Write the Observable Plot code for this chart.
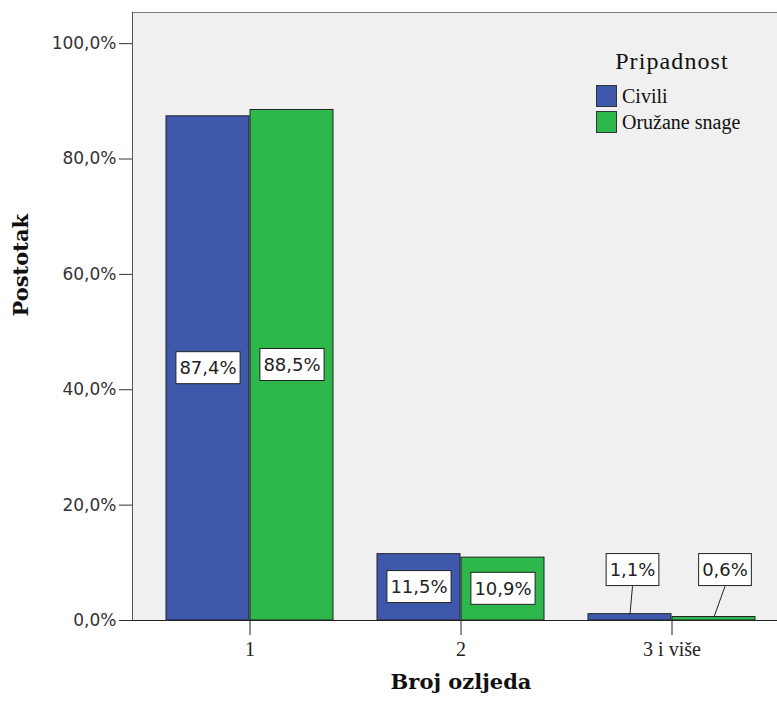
<!DOCTYPE html>
<html>
<head>
<meta charset="utf-8">
<script src="https://cdn.jsdelivr.net/npm/d3@7"></script>
<script src="https://cdn.jsdelivr.net/npm/@observablehq/plot@0.6"></script>
<style>
  body { margin: 0; background: #fff; }
  #wrap { position: relative; width: 777px; height: 702px; overflow: hidden; }
  #wrap svg { position: absolute; left: 0; top: 0; }
  .lg-title { position: absolute; left: 596px; top: 47px; width: 152px; text-align: center;
    font: 24px "Liberation Serif", serif; letter-spacing: 1.1px; line-height: 28px; color: #111; }
  .lg-sw { position: absolute; left: 596px; width: 21px; height: 22px; box-sizing: border-box; border: 1px solid #333; }
  .lg-tx { position: absolute; left: 622px; font: 20px "Liberation Serif", serif; line-height: 22px; color: #111; white-space: nowrap; }
</style>
</head>
<body>
<div id="wrap"></div>
<script>
// ---- data ----
const categories = ["1", "2", "3 i više"];
const seriesNames = ["Civili", "Oružane snage"];
const civili = [87.4, 11.5, 1.1];
const oruzaneSnage = [88.5, 10.9, 0.6];
const seriesColors = ["#3e58ac", "#2eb84b"];
const yTicks = [0, 20, 40, 60, 80, 100];
const yTitle = "Postotak";
const xTitle = "Broj ozljeda";
const legendTitle = "Pripadnost";

const data = categories.flatMap((c, i) => [
  {cat: c, s: 0, series: seriesNames[0], value: civili[i]},
  {cat: c, s: 1, series: seriesNames[1], value: oruzaneSnage[i]}
]);
const fmt = v => v.toFixed(1).replace(".", ",") + "%";

// ---- layout ----
const W = 777, H = 702;
const xScaleOpts = {type: "band", domain: categories, range: [143, 779], paddingInner: 0.2075, paddingOuter: 0.104};
const bw = Plot.scale({x: xScaleOpts}).bandwidth;
const half = bw / 2, quarter = bw / 4;
const smallThreshold = 5;
const smallLevel = 8.7;
const isTall = d => d.value >= smallThreshold;
const labelY = d => isTall(d) ? d.value / 2 : smallLevel;
const smallLabelShift = [2.5, 11];

const tall = data.filter(isTall);
const small = data.filter(d => !isTall(d));

const chart = Plot.plot({
  width: W, height: H,
  marginLeft: 132, marginRight: 0, marginTop: 12, marginBottom: 82,
  style: {background: "transparent", overflow: "visible"},
  x: {...xScaleOpts, label: null},
  y: {domain: [0, 105.4], label: null},
  marks: [
    Plot.frame({fill: "#f0f0f0", stroke: null}),
    Plot.frame({anchor: "top", stroke: "#7a7a7a"}),
    Plot.frame({anchor: "left", stroke: "#555"}),
    Plot.barY(data.filter(d => d.s === 0), {x: "cat", y: "value", fill: seriesColors[0], stroke: "#222", strokeWidth: 1, insetRight: half}),
    Plot.barY(data.filter(d => d.s === 1), {x: "cat", y: "value", fill: seriesColors[1], stroke: "#222", strokeWidth: 1, insetLeft: half}),
    Plot.ruleY([0], {stroke: "#222", strokeWidth: 1}),
    Plot.link(small, {
      x1: "cat", x2: "cat", y1: "value", y2: labelY, stroke: "#222", strokeWidth: 1,
      render(index, scales, values, dims, ctx, next) {
        const x1 = Float64Array.from(values.x1, (v, i) => v + (small[i].s === 0 ? -quarter : quarter));
        const x2 = Float64Array.from(values.x2, (v, i) => v + (small[i].s === 0 ? -quarter : quarter) + smallLabelShift[small[i].s]);
        const y2 = Float64Array.from(values.y2, v => v + 16);
        return next(index, scales, {...values, x1, x2, y2}, dims, ctx);
      }
    }),
    Plot.text(tall.filter(d => d.s === 0), {x: "cat", y: labelY, text: d => fmt(d.value), dx: -quarter, className: "vlabel", fontFamily: "DejaVu Sans", fontSize: 18, fill: "#222"}),
    Plot.text(tall.filter(d => d.s === 1), {x: "cat", y: labelY, text: d => fmt(d.value), dx: quarter, className: "vlabel", fontFamily: "DejaVu Sans", fontSize: 18, fill: "#222"}),
    Plot.text(small.filter(d => d.s === 0), {x: "cat", y: labelY, text: d => fmt(d.value), dx: -quarter + smallLabelShift[0], className: "vlabel", fontFamily: "DejaVu Sans", fontSize: 18, fill: "#222"}),
    Plot.text(small.filter(d => d.s === 1), {x: "cat", y: labelY, text: d => fmt(d.value), dx: quarter + smallLabelShift[1], className: "vlabel", fontFamily: "DejaVu Sans", fontSize: 18, fill: "#222"}),
    Plot.axisY({ticks: yTicks, tickFormat: fmt, tickSize: 13, tickPadding: 3, fontSize: 17, fontFamily: "DejaVu Sans", color: "#333", label: null}),
    Plot.axisX({tickSize: 15, tickPadding: 6, fontSize: 20, fontFamily: "Liberation Serif", color: "#222", label: null}),
    Plot.text([yTitle], {frameAnchor: "left", dx: -111, rotate: -90, fontFamily: "DejaVu Serif", fontWeight: "bold", fontSize: 21, fill: "#111"}),
    Plot.text([xTitle], {frameAnchor: "bottom", dx: 6, dy: 68, fontFamily: "DejaVu Serif", fontWeight: "bold", fontSize: 21, fill: "#111"})
  ]
});

const wrap = document.getElementById("wrap");
wrap.appendChild(chart);

// white boxes behind value labels
d3.select(chart).selectAll("g.vlabel text").each(function () {
  const b = this.getBBox();
  const padX = 3.5, padY = 5.5;
  const r = document.createElementNS("http://www.w3.org/2000/svg", "rect");
  r.setAttribute("x", b.x - padX);
  r.setAttribute("y", b.y - padY);
  r.setAttribute("width", b.width + 2 * padX);
  r.setAttribute("height", b.height + 2 * padY);
  r.setAttribute("fill", "#fff");
  r.setAttribute("stroke", "#222");
  r.setAttribute("stroke-width", "1");
  const t = this.getAttribute("transform");
  if (t) r.setAttribute("transform", t);
  this.parentNode.insertBefore(r, this);
});

// legend
const lt = document.createElement("div");
lt.className = "lg-title";
lt.textContent = legendTitle;
wrap.appendChild(lt);
seriesNames.forEach((name, i) => {
  const sw = document.createElement("div");
  sw.className = "lg-sw";
  sw.style.top = (85 + i * 26) + "px";
  sw.style.background = seriesColors[i];
  wrap.appendChild(sw);
  const tx = document.createElement("div");
  tx.className = "lg-tx";
  tx.style.top = (85 + i * 26) + "px";
  tx.textContent = name;
  wrap.appendChild(tx);
});
</script>
</body>
</html>
